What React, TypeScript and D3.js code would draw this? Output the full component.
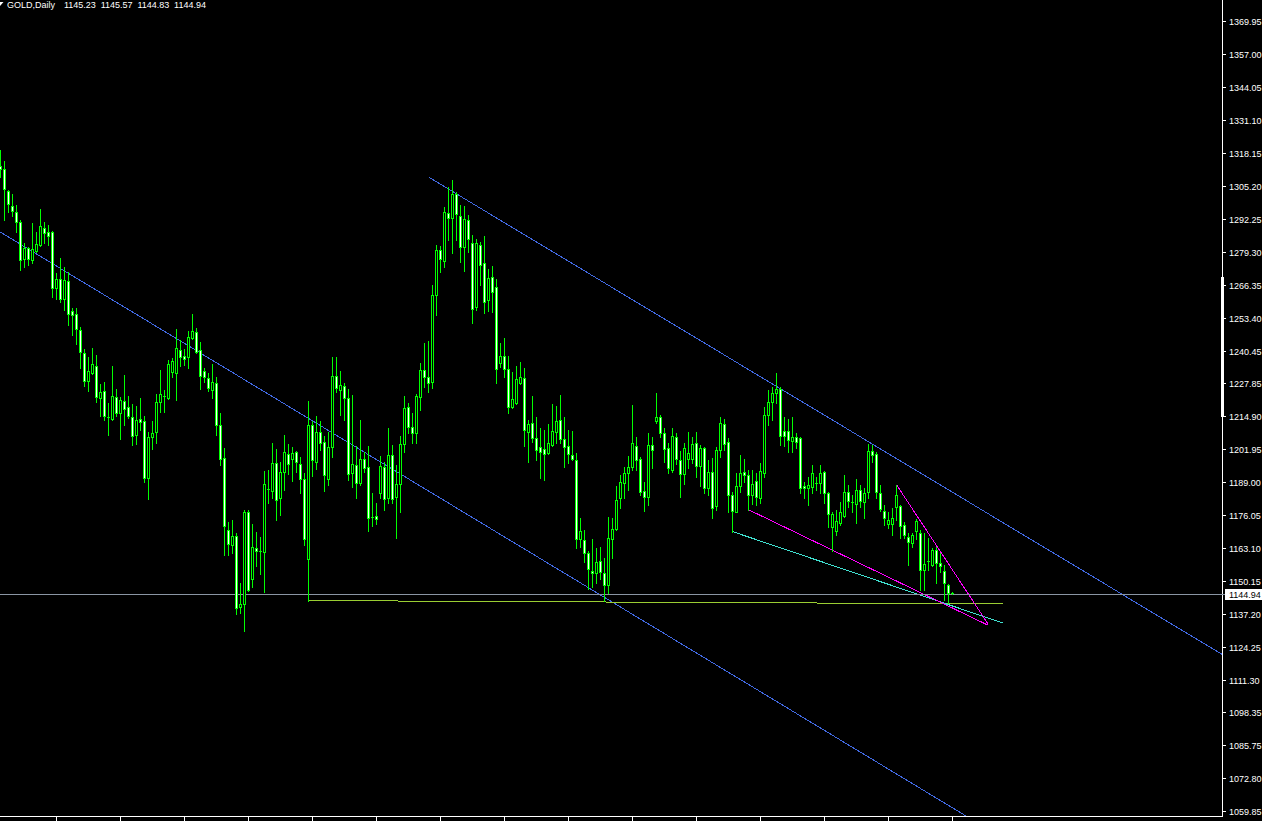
import React from "react";
import * as d3 from "d3";

// ---- data (prices) ----
const symbolTitle = "GOLD,Daily";
const lastQuote = [1145.23, 1145.57, 1144.83, 1144.94]; // O H L C of the current bar
const bidPrice = 1144.94;

// [open, high, low, close] per daily bar, oldest first
const candles: [number, number, number, number][] = [
  [1313.0,1319.3,1308.7,1311.9],[1311.9,1315.0,1291.9,1304.0],[1303.2,1303.6,1295.0,1298.1],[1297.3,1302.0,1293.4,1295.4],
  [1295.0,1297.7,1287.1,1291.1],[1291.1,1291.6,1272.2,1276.2],[1276.6,1282.8,1273.4,1280.9],[1280.9,1281.3,1274.2,1276.6],
  [1276.2,1290.7,1275.0,1280.5],[1279.7,1287.1,1279.3,1282.4],[1282.0,1296.2,1281.6,1289.5],[1288.7,1291.1,1282.8,1286.7],
  [1287.1,1289.9,1282.0,1285.5],[1287.1,1287.5,1261.6,1265.2],[1265.2,1271.0,1260.9,1268.7],[1268.7,1277.0,1259.7,1260.9],
  [1260.9,1273.4,1256.5,1268.3],[1267.9,1271.4,1250.6,1254.9],[1256.1,1257.3,1246.7,1254.5],[1254.9,1257.3,1243.2,1249.1],
  [1248.7,1249.9,1233.8,1240.0],[1239.6,1241.2,1226.7,1228.7],[1228.7,1238.1,1224.7,1232.6],[1231.8,1241.6,1231.4,1235.3],
  [1234.5,1238.8,1220.4,1222.4],[1222.0,1227.5,1214.9,1224.3],[1224.7,1228.3,1213.4,1214.9],[1214.5,1220.0,1207.4,1214.1],
  [1213.7,1234.5,1213.4,1222.7],[1222.4,1225.5,1214.9,1216.1],[1216.1,1222.4,1205.9,1221.2],[1220.8,1231.0,1211.4,1217.7],
  [1218.5,1222.8,1214.1,1214.9],[1214.5,1219.6,1203.5,1207.0],[1207.4,1218.8,1203.9,1213.4],[1213.7,1222.0,1209.4,1212.6],
  [1212.9,1214.9,1189.0,1190.6],[1190.6,1208.6,1182.3,1206.7],[1206.7,1212.9,1202.0,1208.2],[1208.6,1223.5,1204.3,1220.4],
  [1220.4,1233.0,1216.5,1223.5],[1222.8,1225.1,1216.5,1222.4],[1222.0,1236.9,1221.6,1235.3],[1232.2,1237.7,1230.2,1236.5],
  [1231.8,1249.1,1221.2,1241.6],[1240.8,1244.8,1234.5,1238.1],[1238.5,1241.2,1234.9,1237.3],[1238.1,1248.3,1233.8,1245.9],
  [1245.5,1254.9,1245.1,1248.3],[1247.9,1249.5,1239.6,1240.0],[1240.8,1244.0,1225.5,1230.6],[1232.6,1233.8,1228.3,1230.2],
  [1229.8,1231.8,1224.7,1225.9],[1225.1,1235.3,1222.0,1228.3],[1227.9,1230.2,1207.4,1211.4],[1211.4,1216.1,1195.7,1198.0],
  [1198.4,1202.4,1160.3,1171.7],[1170.2,1173.3,1160.3,1164.7],[1164.3,1174.1,1161.0,1167.6],[1167.8,1169.0,1137.2,1139.2],
  [1139.6,1149.4,1137.6,1141.1],[1141.1,1178.0,1130.5,1177.2],[1177.2,1178.0,1146.2,1146.6],[1150.6,1172.5,1147.8,1163.5],
  [1163.1,1169.4,1156.0,1161.9],[1161.9,1167.4,1152.9,1161.8],[1161.5,1193.3,1145.8,1188.2],[1186.3,1193.7,1180.8,1185.9],
  [1185.5,1204.3,1182.7,1196.5],[1196.5,1202.0,1174.1,1182.0],[1182.7,1196.9,1176.1,1192.9],[1192.9,1207.4,1185.9,1200.8],
  [1200.0,1203.9,1192.1,1196.1],[1198.0,1202.8,1189.4,1200.4],[1200.8,1201.2,1192.9,1196.9],[1196.1,1198.8,1184.7,1190.2],
  [1190.2,1192.5,1164.3,1166.6],[1158.8,1220.8,1142.3,1211.4],[1211.4,1213.0,1191.4,1197.7],[1196.9,1214.9,1194.1,1208.6],
  [1208.6,1213.0,1201.6,1204.3],[1204.7,1207.1,1185.5,1191.7],[1190.2,1208.6,1187.8,1202.8],[1202.8,1238.1,1198.8,1230.6],
  [1230.6,1238.1,1224.3,1225.9],[1225.1,1232.6,1215.3,1227.1],[1226.7,1227.9,1213.4,1222.0],[1222.0,1225.5,1189.8,1192.1],
  [1192.5,1223.2,1187.0,1196.1],[1195.7,1203.1,1182.7,1188.6],[1188.6,1213.4,1187.8,1198.0],[1198.0,1200.8,1192.9,1194.5],
  [1194.9,1203.1,1169.8,1174.9],[1175.3,1184.7,1171.7,1174.9],[1175.7,1180.8,1172.5,1174.5],[1184.7,1199.2,1182.7,1195.3],
  [1194.9,1196.9,1178.0,1182.3],[1182.7,1210.2,1180.8,1199.6],[1199.6,1203.5,1180.8,1182.3],[1183.1,1195.7,1167.0,1188.2],
  [1188.2,1207.1,1177.2,1203.9],[1203.9,1222.8,1200.8,1218.1],[1218.5,1220.0,1208.2,1210.6],[1210.6,1216.1,1204.3,1208.2],
  [1208.2,1223.5,1204.3,1222.8],[1222.4,1235.7,1217.3,1233.0],[1233.0,1243.6,1226.3,1230.2],[1230.2,1244.4,1224.3,1227.9],
  [1228.3,1266.3,1225.9,1262.4],[1262.4,1282.0,1254.5,1280.1],[1280.1,1281.6,1271.4,1276.5],[1275.8,1296.9,1273.4,1295.0],
  [1294.6,1304.8,1284.0,1292.6],[1292.6,1307.5,1278.9,1302.0],[1302.0,1302.6,1284.0,1294.2],[1293.4,1297.7,1275.4,1281.3],
  [1281.3,1297.3,1271.8,1292.2],[1291.9,1293.8,1279.3,1284.4],[1282.8,1286.0,1251.4,1256.9],[1257.7,1284.4,1256.5,1282.8],
  [1282.0,1283.2,1266.3,1274.2],[1275.0,1285.6,1255.3,1259.7],[1260.5,1272.6,1256.1,1269.1],[1269.5,1273.8,1255.7,1263.6],
  [1265.6,1268.7,1227.9,1233.4],[1235.7,1243.6,1234.1,1238.5],[1238.5,1245.5,1230.2,1233.4],[1233.4,1238.5,1216.1,1218.5],
  [1218.5,1232.2,1218.1,1221.6],[1220.0,1234.5,1219.6,1229.4],[1227.9,1236.1,1227.5,1230.2],[1229.8,1233.8,1203.1,1209.4],
  [1208.6,1213.4,1196.9,1211.8],[1212.2,1222.8,1204.7,1206.3],[1206.3,1214.5,1197.7,1201.6],[1202.8,1210.2,1190.6,1200.8],
  [1202.0,1209.4,1189.8,1200.0],[1200.4,1211.8,1200.0,1204.3],[1203.5,1219.6,1203.1,1209.0],[1208.6,1218.8,1204.3,1212.9],
  [1213.4,1223.2,1204.3,1205.9],[1205.9,1214.5,1194.9,1202.8],[1203.1,1209.4,1196.5,1200.0],[1199.6,1209.0,1197.6,1198.0],
  [1197.7,1200.4,1163.1,1166.6],[1166.6,1174.9,1163.5,1169.8],[1166.2,1170.2,1157.6,1161.1],[1161.1,1161.9,1147.0,1154.9],
  [1154.1,1166.3,1147.8,1153.3],[1153.3,1163.1,1149.4,1157.6],[1158.0,1163.5,1150.6,1153.7],[1153.3,1159.2,1142.0,1148.6],
  [1148.6,1175.3,1145.4,1167.0],[1166.6,1174.9,1159.2,1170.6],[1170.6,1187.4,1170.2,1182.0],[1182.7,1191.7,1178.8,1189.0],
  [1188.6,1194.9,1182.7,1192.5],[1192.5,1199.2,1185.9,1194.9],[1194.9,1219.2,1193.7,1204.3],[1203.1,1206.7,1193.7,1197.7],
  [1198.0,1198.8,1183.9,1185.1],[1185.5,1189.0,1177.6,1183.1],[1183.1,1208.2,1180.0,1203.5],[1203.5,1206.7,1194.5,1201.6],
  [1212.9,1224.0,1212.2,1214.5],[1214.5,1215.0,1206.7,1208.2],[1208.2,1210.2,1196.9,1202.0],[1202.4,1204.3,1192.5,1194.5],
  [1193.7,1210.2,1192.9,1207.1],[1206.7,1208.2,1196.1,1198.0],[1197.7,1201.2,1183.1,1192.1],[1192.1,1204.3,1188.2,1202.4],
  [1198.0,1208.6,1194.5,1200.4],[1198.0,1206.7,1196.5,1203.9],[1204.3,1208.6,1191.0,1195.3],[1195.3,1203.5,1187.4,1202.4],
  [1202.4,1202.8,1184.7,1186.6],[1186.6,1197.7,1183.9,1192.9],[1192.9,1198.4,1174.9,1178.8],[1179.6,1202.8,1178.0,1201.6],
  [1201.6,1214.5,1198.8,1212.2],[1211.8,1213.7,1201.6,1203.9],[1204.7,1206.3,1176.9,1183.9],[1183.9,1185.1,1169.4,1177.6],
  [1177.2,1192.5,1176.9,1187.4],[1187.4,1199.6,1185.1,1192.5],[1192.9,1198.0,1189.0,1191.7],[1191.7,1193.7,1178.0,1183.9],
  [1183.9,1193.7,1180.4,1188.2],[1189.4,1192.5,1180.0,1183.1],[1182.7,1196.5,1180.8,1193.3],[1192.5,1218.5,1191.0,1215.3],
  [1215.3,1225.1,1211.4,1220.4],[1220.4,1226.3,1213.4,1223.9],[1223.9,1231.8,1220.0,1225.5],[1225.5,1226.3,1203.5,1207.1],
  [1209.0,1214.5,1203.1,1207.1],[1209.0,1213.7,1200.8,1205.5],[1205.1,1214.5,1200.8,1206.7],[1206.7,1208.2,1202.4,1204.7],
  [1206.3,1206.7,1184.7,1186.6],[1187.4,1189.0,1182.7,1186.6],[1186.6,1191.0,1180.0,1187.8],[1187.0,1195.7,1184.7,1192.5],
  [1188.6,1191.0,1185.9,1188.2],[1188.6,1195.7,1184.7,1192.5],[1192.9,1193.3,1180.8,1184.7],[1184.7,1185.1,1171.3,1176.5],
  [1171.3,1177.2,1161.9,1176.5],[1169.8,1178.0,1168.2,1173.7],[1172.9,1181.2,1172.1,1176.9],[1175.7,1191.7,1175.3,1185.1],
  [1185.1,1187.8,1179.2,1181.6],[1181.2,1183.9,1176.9,1180.8],[1180.4,1190.2,1172.9,1185.9],[1185.9,1187.8,1179.2,1181.6],
  [1181.2,1186.6,1174.9,1184.7],[1185.1,1203.9,1182.7,1201.2],[1201.2,1203.5,1196.9,1199.6],[1200.0,1200.8,1182.7,1185.1],
  [1184.7,1187.8,1177.6,1178.4],[1177.6,1180.0,1172.1,1174.9],[1172.5,1176.9,1170.9,1174.1],[1172.5,1178.8,1168.2,1174.9],
  [1179.2,1187.8,1174.1,1183.9],[1179.6,1180.0,1167.0,1171.7],[1172.1,1173.3,1167.0,1168.2],[1167.4,1169.0,1156.4,1165.5],
  [1165.1,1169.0,1163.5,1168.2],[1169.8,1174.5,1166.3,1173.7],[1169.0,1170.2,1146.6,1154.5],[1154.5,1169.0,1146.6,1156.8],
  [1158.0,1167.0,1154.5,1157.6],[1156.4,1163.1,1155.7,1162.3],[1162.3,1163.5,1149.4,1157.2],[1157.2,1161.1,1153.7,1155.7],
  [1154.1,1156.4,1142.7,1149.4],[1148.3,1149.0,1141.5,1145.2],[1145.23,1145.57,1144.83,1144.94],
];

// price-scale labels as printed by the terminal
const priceTicks = [
  1369.95, 1357.0, 1344.05, 1331.1, 1318.15, 1305.2, 1292.25, 1279.3, 1266.35, 1253.4, 1240.45, 1227.85,
  1214.9, 1201.95, 1189.0, 1176.05, 1163.1, 1150.15, 1137.2, 1124.25, 1111.3, 1098.35, 1085.75, 1072.8, 1059.85,
];

// time-axis tick bars (every 16 bars)
const timeTickBars = [14, 30, 46, 62, 78, 94, 110, 126, 142, 158, 174, 190, 206, 222, 238];

// trend objects: [bar, price] anchors
type TL = { a: [number, number]; b: [number, number]; color: string; extend: "none" | "right" | "both" };
const trendLines: TL[] = [
  { a: [107.07, 1308.6], b: [217, 1204.7], color: "#4169e1", extend: "right" },
  { a: [0, 1287.0], b: [150, 1144.5], color: "#4169e1", extend: "both" },
  { a: [77, 1142.3], b: [250.75, 1141.0], color: "#9acd32", extend: "none" },
  { a: [183, 1169.4], b: [250.75, 1133.4], color: "#40e0d0", extend: "none" },
  { a: [187, 1178.0], b: [246.8, 1132.7], color: "#ff00ff", extend: "none" },
  { a: [224, 1187.8], b: [246.8, 1133.3], color: "#ff00ff", extend: "none" },
];

const W = 1262;
const H = 821;
const PLOT_R = 1222;
const PLOT_B = 816;
const BAR_STEP = 4;

export default function App() {
  const x = d3
    .scaleLinear()
    .domain([0, candles.length - 1])
    .range([0, (candles.length - 1) * BAR_STEP]);
  const y = d3.scaleLinear().domain([1059.85, 1369.95]).range([810.5, 21]);

  const lineEnds = (t: TL) => {
    let [x1, y1] = [x(t.a[0]) + 0.5, y(t.a[1])];
    let [x2, y2] = [x(t.b[0]) + 0.5, y(t.b[1])];
    const slope = (y2 - y1) / (x2 - x1);
    if (t.extend === "right" || t.extend === "both") {
      const nx = PLOT_R + 50;
      y2 = y1 + slope * (nx - x1);
      x2 = nx;
    }
    if (t.extend === "both") {
      const nx = -50;
      y1 = y1 + slope * (nx - x1);
      x1 = nx;
    }
    return { x1, y1, x2, y2 };
  };

  const font = "'Liberation Sans', Arial, sans-serif";
  const bidY = Math.round(y(bidPrice)) + 0.5;

  return (
    <svg
      width={W}
      height={H}
      style={{ position: "fixed", left: 0, top: 0, display: "block", background: "#000" }}
    >
      <defs>
        <clipPath id="plot">
          <rect x={0} y={0} width={PLOT_R} height={PLOT_B} />
        </clipPath>
      </defs>
      <rect x={0} y={0} width={W} height={H} fill="#000" />

      {/* trend objects */}
      <g clipPath="url(#plot)" shapeRendering="crispEdges">
        {trendLines.map((t, k) => {
          const e = lineEnds(t);
          return <line key={k} {...e} stroke={t.color} strokeWidth={1} />;
        })}
        <line x1={0} x2={PLOT_R} y1={bidY} y2={bidY} stroke="#8a95a3" strokeWidth={1} />
      </g>

      {/* candles */}
      <g clipPath="url(#plot)" shapeRendering="crispEdges">
        {candles.map(([o, h, l, c], i) => {
          const cx = Math.round(x(i));
          const yh = Math.round(y(h));
          const yl = Math.round(y(l));
          const top = Math.round(y(Math.max(o, c)));
          const bot = Math.round(y(Math.min(o, c)));
          const bull = c >= o;
          return (
            <g key={i}>
              <rect x={cx} y={yh} width={1} height={Math.max(1, yl - yh + 1)} fill="#00ff00" />
              {bot - top < 2 ? (
                <rect x={cx - 1} y={top} width={3} height={1} fill="#00ff00" />
              ) : (
                <rect
                  x={cx - 0.5}
                  y={top + 0.5}
                  width={2}
                  height={bot - top}
                  fill={bull ? "#000" : "#fff"}
                  stroke="#00ff00"
                  strokeWidth={1}
                />
              )}
            </g>
          );
        })}
      </g>

      {/* axes */}
      <g shapeRendering="crispEdges">
        <line x1={PLOT_R + 0.5} x2={PLOT_R + 0.5} y1={0} y2={PLOT_B + 1} stroke="#fff" />
        <line x1={0} x2={PLOT_R + 1} y1={PLOT_B + 0.5} y2={PLOT_B + 0.5} stroke="#fff" />
        <rect x={PLOT_R - 1} y={277} width={3} height={140} fill="#fff" />
        {timeTickBars.map((b) => {
          const tx = Math.round(x(b)) + 0.5;
          return <line key={b} x1={tx} x2={tx} y1={PLOT_B + 1} y2={H} stroke="#fff" />;
        })}
        {priceTicks.map((p) => {
          const ty = Math.round(y(p)) + 0.5;
          return <line key={p} x1={PLOT_R + 1} x2={PLOT_R + 4} y1={ty} y2={ty} stroke="#fff" />;
        })}
      </g>
      {priceTicks.map((p) => (
        <text
          key={p}
          x={PLOT_R + 7}
          y={Math.round(y(p)) + 4}
          fill="#fff"
          fontFamily={font}
          fontSize={9}
        >
          {p.toFixed(2)}
        </text>
      ))}

      {/* bid label */}
      <rect x={PLOT_R + 3} y={bidY - 5.5} width={W - PLOT_R - 3} height={11} fill="#fff" shapeRendering="crispEdges" />
      <line x1={PLOT_R} x2={PLOT_R + 3} y1={bidY} y2={bidY} stroke="#8a95a3" shapeRendering="crispEdges" />
      <text x={PLOT_R + 7} y={bidY + 3.5} fill="#000" fontFamily={font} fontSize={9}>
        {bidPrice.toFixed(2)}
      </text>

      {/* header */}
      <polygon points="0,2 3.5,2 0,6" fill="#fff" />
      <text x={7} y={7.5} fill="#fff" fontFamily={font} fontSize={9}>
        {symbolTitle}
      </text>
      {lastQuote.map((v, k) => (
        <text key={k} x={64 + k * 36.7} y={7.5} fill="#fff" fontFamily={font} fontSize={9}>
          {v.toFixed(2)}
        </text>
      ))}
    </svg>
  );
}
